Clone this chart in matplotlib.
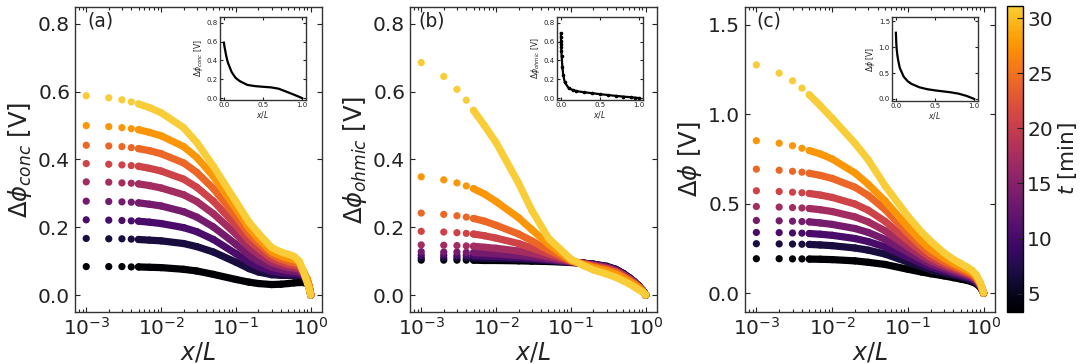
import numpy as np
import matplotlib
matplotlib.use("Agg")
import matplotlib.pyplot as plt
from matplotlib import colors, cm

# x/L sample positions
x_over_L = [0.001, 0.002, 0.003, 0.004, 0.005, 0.007, 0.01, 0.02, 0.03, 0.05,
            0.1, 0.15, 0.2, 0.3, 0.4, 0.5, 0.6, 0.7, 0.8, 0.9, 0.95, 1.0]
# time of each curve [min]
t_min = [3.33, 6.8, 10.3, 13.7, 17.2, 20.7, 24.2, 27.6, 31.1]

dphi_conc = [
    [0.084, 0.084, 0.084, 0.083, 0.083, 0.082, 0.081, 0.076, 0.071, 0.061, 0.046, 0.038, 0.034, 0.031, 0.032, 0.034, 0.036, 0.037, 0.037, 0.033, 0.022, 0.0],
    [0.167, 0.166, 0.166, 0.165, 0.164, 0.162, 0.160, 0.152, 0.143, 0.127, 0.097, 0.078, 0.068, 0.060, 0.058, 0.058, 0.058, 0.058, 0.054, 0.040, 0.024, 0.0],
    [0.222, 0.221, 0.220, 0.219, 0.218, 0.215, 0.211, 0.199, 0.187, 0.164, 0.122, 0.097, 0.083, 0.070, 0.066, 0.064, 0.063, 0.062, 0.057, 0.041, 0.025, 0.0],
    [0.277, 0.276, 0.275, 0.274, 0.272, 0.268, 0.263, 0.246, 0.230, 0.201, 0.150, 0.118, 0.100, 0.082, 0.076, 0.072, 0.070, 0.068, 0.060, 0.042, 0.025, 0.0],
    [0.334, 0.333, 0.331, 0.330, 0.328, 0.323, 0.316, 0.296, 0.276, 0.240, 0.180, 0.141, 0.120, 0.096, 0.087, 0.082, 0.079, 0.076, 0.064, 0.043, 0.026, 0.0],
    [0.388, 0.386, 0.384, 0.382, 0.380, 0.374, 0.366, 0.342, 0.318, 0.277, 0.206, 0.161, 0.137, 0.108, 0.097, 0.090, 0.087, 0.083, 0.067, 0.044, 0.026, 0.0],
    [0.442, 0.440, 0.438, 0.435, 0.432, 0.426, 0.417, 0.390, 0.362, 0.314, 0.232, 0.180, 0.153, 0.119, 0.106, 0.099, 0.095, 0.090, 0.069, 0.045, 0.027, 0.0],
    [0.500, 0.497, 0.494, 0.491, 0.488, 0.480, 0.470, 0.438, 0.406, 0.350, 0.255, 0.197, 0.166, 0.128, 0.115, 0.108, 0.104, 0.097, 0.070, 0.046, 0.027, 0.0],
    [0.588, 0.582, 0.576, 0.570, 0.564, 0.553, 0.538, 0.494, 0.450, 0.380, 0.276, 0.215, 0.182, 0.140, 0.127, 0.120, 0.114, 0.100, 0.068, 0.035, 0.018, 0.0],
]

dphi_ohmic = [
    [0.103, 0.103, 0.103, 0.103, 0.103, 0.102, 0.102, 0.101, 0.100, 0.099, 0.096, 0.094, 0.091, 0.085, 0.076, 0.064, 0.052, 0.040, 0.028, 0.015, 0.008, 0.0],
    [0.110, 0.110, 0.110, 0.109, 0.109, 0.108, 0.108, 0.106, 0.104, 0.102, 0.097, 0.094, 0.091, 0.084, 0.075, 0.063, 0.051, 0.039, 0.028, 0.015, 0.008, 0.0],
    [0.118, 0.118, 0.117, 0.117, 0.116, 0.115, 0.114, 0.111, 0.108, 0.104, 0.097, 0.093, 0.090, 0.083, 0.074, 0.062, 0.050, 0.039, 0.027, 0.014, 0.007, 0.0],
    [0.128, 0.127, 0.127, 0.126, 0.125, 0.124, 0.122, 0.117, 0.113, 0.107, 0.098, 0.093, 0.089, 0.082, 0.073, 0.061, 0.049, 0.038, 0.027, 0.014, 0.007, 0.0],
    [0.148, 0.147, 0.146, 0.145, 0.144, 0.141, 0.138, 0.130, 0.123, 0.113, 0.099, 0.093, 0.088, 0.080, 0.071, 0.059, 0.048, 0.037, 0.026, 0.014, 0.007, 0.0],
    [0.188, 0.186, 0.184, 0.182, 0.180, 0.175, 0.168, 0.152, 0.139, 0.122, 0.100, 0.092, 0.086, 0.078, 0.069, 0.057, 0.046, 0.036, 0.025, 0.013, 0.007, 0.0],
    [0.242, 0.238, 0.234, 0.230, 0.226, 0.218, 0.206, 0.180, 0.160, 0.133, 0.101, 0.091, 0.084, 0.075, 0.066, 0.054, 0.044, 0.034, 0.024, 0.013, 0.006, 0.0],
    [0.349, 0.340, 0.331, 0.322, 0.314, 0.298, 0.276, 0.228, 0.193, 0.150, 0.102, 0.089, 0.081, 0.071, 0.062, 0.050, 0.040, 0.031, 0.022, 0.012, 0.006, 0.0],
    [0.686, 0.645, 0.607, 0.575, 0.545, 0.500, 0.450, 0.330, 0.250, 0.168, 0.106, 0.086, 0.074, 0.062, 0.052, 0.042, 0.033, 0.024, 0.016, 0.009, 0.005, 0.0],
]

dphi_total = [
    [0.192, 0.192, 0.191, 0.191, 0.190, 0.189, 0.187, 0.180, 0.172, 0.160, 0.133, 0.118, 0.108, 0.096, 0.086, 0.078, 0.071, 0.063, 0.052, 0.032, 0.018, 0.0],
    [0.276, 0.275, 0.274, 0.273, 0.272, 0.269, 0.265, 0.252, 0.240, 0.218, 0.173, 0.147, 0.130, 0.112, 0.099, 0.090, 0.081, 0.072, 0.059, 0.037, 0.020, 0.0],
    [0.339, 0.338, 0.336, 0.335, 0.333, 0.329, 0.323, 0.305, 0.288, 0.258, 0.200, 0.167, 0.146, 0.124, 0.109, 0.098, 0.088, 0.078, 0.064, 0.040, 0.022, 0.0],
    [0.406, 0.404, 0.402, 0.400, 0.398, 0.392, 0.384, 0.361, 0.339, 0.300, 0.228, 0.188, 0.162, 0.136, 0.119, 0.107, 0.096, 0.085, 0.069, 0.043, 0.023, 0.0],
    [0.484, 0.481, 0.478, 0.476, 0.473, 0.466, 0.456, 0.426, 0.398, 0.348, 0.259, 0.210, 0.180, 0.149, 0.130, 0.116, 0.104, 0.092, 0.074, 0.046, 0.025, 0.0],
    [0.572, 0.568, 0.564, 0.561, 0.557, 0.548, 0.535, 0.498, 0.463, 0.401, 0.293, 0.235, 0.198, 0.162, 0.141, 0.125, 0.112, 0.099, 0.080, 0.049, 0.026, 0.0],
    [0.693, 0.687, 0.681, 0.676, 0.670, 0.658, 0.641, 0.592, 0.546, 0.467, 0.334, 0.263, 0.219, 0.176, 0.152, 0.134, 0.120, 0.106, 0.086, 0.052, 0.028, 0.0],
    [0.852, 0.838, 0.824, 0.810, 0.797, 0.778, 0.750, 0.672, 0.608, 0.515, 0.370, 0.292, 0.245, 0.195, 0.166, 0.146, 0.130, 0.114, 0.092, 0.055, 0.029, 0.0],
    [1.276, 1.230, 1.187, 1.146, 1.109, 1.047, 0.978, 0.838, 0.745, 0.600, 0.430, 0.343, 0.290, 0.225, 0.188, 0.165, 0.146, 0.128, 0.102, 0.060, 0.031, 0.0],
]

W, H = 1080, 364
base = plt.get_cmap("inferno")
cmap = colors.ListedColormap(base(np.linspace(0.0, 0.88, 256)), name="inferno_cut")
norm = colors.Normalize(vmin=min(t_min), vmax=max(t_min))
TXT = "#222222"


def px_rect(left, top, width, height):
    # pixel box (from top-left) -> figure fraction
    return [left / W, (H - top - height) / H, width / W, height / H]


def style_ticks(ax, size, length=3.5):
    ax.tick_params(which="both", direction="in", top=True, right=True,
                   labelsize=size, colors=TXT, width=0.8)
    ax.tick_params(which="major", length=length)
    ax.tick_params(which="minor", length=length * 0.55)
    for s in ax.spines.values():
        s.set_linewidth(1.0)
        s.set_color("#333333")


def plot_panel(fig, rect, curves, ylim, yticks, ylabel, tag, tag_x,
               inset_rect, inset_ylim, inset_ylabel, inset_marker=None):
    ax = fig.add_axes(px_rect(*rect))
    x = np.array(x_over_L)
    for t, y in zip(t_min, curves):
        c = cmap(norm(t))
        y = np.array(y)
        ax.plot(x[4:], y[4:], "-", color=c, lw=5.2, solid_capstyle="round")
        ax.scatter(x, y, s=27, color=c, edgecolors="none")
    ax.set_xscale("log")
    ax.set_ylim(*ylim)
    ax.set_yticks(yticks)
    ax.set_xticks([1e-3, 1e-2, 1e-1, 1e0])
    ax.set_xlabel("$x/L$", fontsize=17, color=TXT, labelpad=1)
    ax.set_ylabel(ylabel, fontsize=17.5, color=TXT, labelpad=3)
    style_ticks(ax, 14.5)
    ax.text(tag_x, 0.955, tag, transform=ax.transAxes, fontsize=13.5,
            ha="left", va="center", color=TXT)

    axin = fig.add_axes(px_rect(*inset_rect))
    axin.plot(x, curves[-1], "k-", lw=1.6,
              marker=inset_marker, ms=1.6 if inset_marker else 0)
    axin.set_ylim(*inset_ylim)
    axin.set_xticks([0.0, 0.5, 1.0])
    axin.set_xticklabels(["0.0", "0.5", "1.0"])
    axin.set_xlabel("$x/L$", fontsize=5.5, labelpad=1, color=TXT)
    axin.set_ylabel(inset_ylabel, fontsize=5.5, labelpad=1, color=TXT)
    style_ticks(axin, 5, length=2)
    axin.tick_params(pad=1.5)
    return ax


fig = plt.figure(figsize=(W / 100, H / 100), dpi=100)

plot_panel(fig, (75, 7, 247, 305), dphi_conc, (-0.05, 0.85),
           [0.0, 0.2, 0.4, 0.6, 0.8], r"$\Delta\phi_{conc}$ [V]", "(a)", 0.05,
           (220, 17, 86, 83), (-0.02, 0.86), r"$\Delta\phi_{conc}$ [V]")
plot_panel(fig, (410, 7, 247, 305), dphi_ohmic, (-0.05, 0.85),
           [0.0, 0.2, 0.4, 0.6, 0.8], r"$\Delta\phi_{ohmic}$ [V]", "(b)", 0.035,
           (557, 17, 86, 83), (-0.02, 0.86), r"$\Delta\phi_{ohmic}$ [V]",
           inset_marker="o")
plot_panel(fig, (745, 7, 250, 305), dphi_total, (-0.106, 1.6),
           [0.0, 0.5, 1.0, 1.5], r"$\Delta\phi$ [V]", "(c)", 0.045,
           (892, 17, 86, 84), (-0.04, 1.58), r"$\Delta\phi$ [V]")

cax = fig.add_axes(px_rect(1007, 6, 16, 306))
sm = cm.ScalarMappable(norm=norm, cmap=cmap)
cb = fig.colorbar(sm, cax=cax, ticks=[5, 10, 15, 20, 25, 30])
cb.set_label("$t$ [min]", fontsize=15.5, color=TXT, labelpad=2)
cb.ax.tick_params(direction="in", labelsize=14.5, colors=TXT, length=4, pad=3)
cb.outline.set_linewidth(1.0)

fig.savefig("out.png", dpi=100)
